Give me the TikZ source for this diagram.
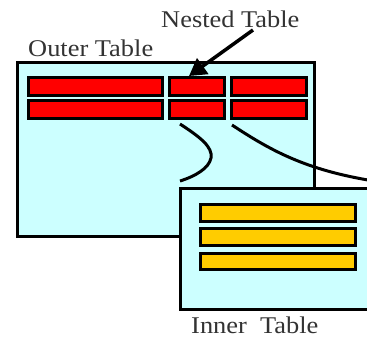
\documentclass[tikz,border=0pt]{standalone}
\usepackage{fontspec}
\setmainfont{Liberation Serif}
\usetikzlibrary{arrows.meta}
\definecolor{tblcyan}{HTML}{CCFFFF}
\definecolor{cellred}{HTML}{FF0000}
\definecolor{cellyellow}{HTML}{FFCC00}
\definecolor{lbl}{HTML}{333333}
\tikzset{
  tablebox/.style={draw=black, fill=tblcyan, line width=3pt, anchor=north west, inner sep=0pt, rectangle},
  redcell/.style={draw=black, fill=cellred, line width=2.8pt, anchor=north west, inner sep=0pt, rectangle},
  yellowcell/.style={draw=black, fill=cellyellow, line width=2.8pt, anchor=north west, inner sep=0pt, rectangle},
  lab/.style={text=lbl, font=\fontsize{24}{24}\selectfont, inner sep=0pt, xscale=1.1, anchor=base west},
  link/.style={draw=black, line width=3pt},
}
\begin{document}
\begin{tikzpicture}[x=1pt,y=-1pt]
\useasboundingbox (0,0) rectangle (367,337);
% outer table
\node[tablebox, minimum width=297pt, minimum height=174pt] (outer) at (16,61) {};
% red cells
\node[redcell, minimum width=134pt, minimum height=18pt] (r11) at (27,76) {};
\node[redcell, minimum width=55pt, minimum height=18pt] (r12) at (168,76) {};
\node[redcell, minimum width=75pt, minimum height=18pt] (r13) at (230,76) {};
\node[redcell, minimum width=134pt, minimum height=18pt] (r21) at (27,99) {};
\node[redcell, minimum width=55pt, minimum height=18pt] (r22) at (168,99) {};
\node[redcell, minimum width=75pt, minimum height=18pt] (r23) at (230,99) {};
% curves
\coordinate (c1s) at (180,124);
\coordinate (c1e) at (180,181);
\coordinate (c2s) at (232,125);
\coordinate (c2e) at (374,181);
\draw[link] (c1s) .. controls (200,137) and (213,147) .. (211,158) .. controls (209,168) and (196,176) .. (c1e);
\draw[link] (c2s) .. controls (270,150) and (305,170) .. (c2e);
% inner table
\node[tablebox, minimum width=195pt, minimum height=121pt] (inner) at (179,187) {};
\node[yellowcell, minimum width=155pt, minimum height=17pt] (y1) at (199,203) {};
\node[yellowcell, minimum width=155pt, minimum height=17pt] (y2) at (199,227) {};
\node[yellowcell, minimum width=155pt, minimum height=16pt] (y3) at (199,252) {};
% labels
\node[lab] (outerlab) at (28,57) {Outer Table};
\node[lab] (nestedlab) at (161,28) {Nested Table};
\node[lab] (innerlab) at (191,333) {Inner~\ Table};
% arrow
\coordinate (arrs) at (253,30);
\coordinate (arre) at (189,76);
\draw[line width=3.5pt, -{Triangle[length=17pt,width=19pt]}] (arrs) -- (arre);
\end{tikzpicture}
\end{document}
